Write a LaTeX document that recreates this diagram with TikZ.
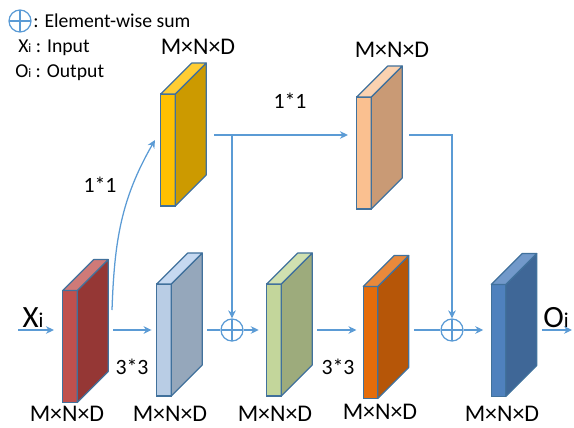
\documentclass[tikz,border=0pt]{standalone}
\usepackage{fontspec}
\setmainfont{Carlito}
\usetikzlibrary{arrows.meta, positioning}
\definecolor{edgeBlue}{RGB}{65,113,156}
\definecolor{flowBlue}{RGB}{91,155,213}
\definecolor{redFront}{RGB}{192,80,77}
\definecolor{redSide}{RGB}{149,55,53}
\definecolor{redTop}{RGB}{207,122,120}
\definecolor{iceFront}{RGB}{185,205,229}
\definecolor{iceSide}{RGB}{149,167,187}
\definecolor{iceTop}{RGB}{198,217,241}
\definecolor{goldFront}{RGB}{255,192,0}
\definecolor{goldSide}{RGB}{204,154,0}
\definecolor{goldTop}{RGB}{255,205,51}
\definecolor{peachFront}{RGB}{250,192,144}
\definecolor{peachSide}{RGB}{201,154,117}
\definecolor{peachTop}{RGB}{251,210,176}
\definecolor{sageFront}{RGB}{195,214,155}
\definecolor{sageSide}{RGB}{157,171,124}
\definecolor{sageTop}{RGB}{208,224,176}
\definecolor{rustFront}{RGB}{228,108,10}
\definecolor{rustSide}{RGB}{182,86,8}
\definecolor{rustTop}{RGB}{233,137,59}
\definecolor{navyFront}{RGB}{79,129,189}
\definecolor{navySide}{RGB}{63,103,151}
\definecolor{navyTop}{RGB}{114,153,202}
\tikzset{%
  >={Stealth[length=2mm, width=1.9mm]},
  % Specifications for style of nodes:
    fmap/.style = {rectangle, draw=edgeBlue, line width=0.8pt, minimum width=0.3625cm,
                   minimum height=2.8cm, inner sep=0pt, outer sep=0pt},
    face/.style = {draw=edgeBlue, line width=0.8pt, line join=round},
    dims/.style = {font=\fontsize{17}{20}\selectfont, inner sep=0pt},
    kernel/.style = {font=\fontsize{15.5}{18}\selectfont, inner sep=0pt},
    legend/.style = {font=\fontsize{14}{17}\selectfont, inner sep=0pt},
    ioLabel/.style = {font=\fontsize{22}{26}\selectfont, inner sep=0pt},
    sum/.style = {circle, draw=flowBlue, line width=0.9pt, minimum size=0.55cm, inner sep=0pt,
                  path picture={\draw[flowBlue, line width=0.9pt]
                    (path picture bounding box.north) -- (path picture bounding box.south)
                    (path picture bounding box.west) -- (path picture bounding box.east);}},
    flow/.style = {draw=flowBlue, line width=0.9pt},
}
% feature map: name, front centre, front, side, top colours
\newcommand{\fmap}[5]{%
  \node (#1) [fmap, fill=#3] at (#2) {};
  \filldraw[face, fill=#4] (#1.north east) -- ++(31,-31) -- ++(0,112) -- (#1.south east) -- cycle;
  \filldraw[face, fill=#5] (#1.north west) -- ++(31,-31) -- ++(14.5,0) -- (#1.north east) -- cycle;
  \coordinate (#1Back) at ([shift={(31,0)}]#1.east);
}

\begin{document}
\begin{tikzpicture}[x=0.025cm, y=-0.025cm]
  \useasboundingbox (0,0) rectangle (574,428);

  \fmap{inputMap}{70,346.5}{redFront}{redSide}{redTop}
  \fmap{convMapA}{164,340}{iceFront}{iceSide}{iceTop}
  \fmap{pointMapA}{168,150}{goldFront}{goldSide}{goldTop}
  \fmap{pointMapB}{364,153}{peachFront}{peachSide}{peachTop}
  \fmap{sumMapA}{274,340}{sageFront}{sageSide}{sageTop}
  \fmap{convMapB}{370.5,342.5}{rustFront}{rustSide}{rustTop}
  \fmap{outputMap}{498.5,340.5}{navyFront}{navySide}{navyTop}

  \node (sumA) [sum] at (232,330) {};
  \node (sumB) [sum] at (452,330) {};

  % legend
  \node (legendSum) [sum] at (20,21) {};
  \node (legendSumText) [legend, right=1pt of legendSum] {: Element-wise sum};
  \node (legendIn) [legend, anchor=west] at (18,48) {X{\fontsize{9}{10}\selectfont i} : Input};
  \node (legendOut) [legend, anchor=west] at (15,73) {O{\fontsize{9}{10}\selectfont i} : Output};

  % labels
  \node (xLabel) [ioLabel] at (33,318) {X{\fontsize{15}{18}\selectfont i}};
  \node (oLabel) [ioLabel] at (556,318) {O{\fontsize{15}{18}\selectfont i}};
  \node (dimIn) [dims] at (67,414) {M×N×D};
  \node (dimConvA) [dims] at (170,414) {M×N×D};
  \node (dimSumA) [dims] at (275,414) {M×N×D};
  \node (dimConvB) [dims] at (380,412) {M×N×D};
  \node (dimOut) [dims] at (502,414) {M×N×D};
  \node (dimPointA) [dims] at (198,47) {M×N×D};
  \node (dimPointB) [dims] at (392,50) {M×N×D};
  \node (kerConvA) [kernel] at (132,367) {3*3};
  \node (kerConvB) [kernel] at (338,367) {3*3};
  \node (kerPointA) [kernel] at (100,185) {1*1};
  \node (kerPointB) [kernel] at (290,101) {1*1};

  \coordinate (auxIn) at (18,330);
  \coordinate (auxOut) at (572,330);
  \coordinate (mainRow) at (0,330);
  \coordinate (topRow) at (0,135);
  \coordinate (auxCurve) at (112,310);
  \coordinate (auxCurveEnd) at (155,140);
  \coordinate (auxBranch) at (sumA |- topRow);

  % Specification of lines between nodes
  \draw[->, flow, shorten >=0.22cm]  (auxIn) -- (auxIn -| inputMap.west);
  \draw[->, flow, shorten <=0.13cm, shorten >=0.13cm]
                                     (mainRow -| inputMapBack) -- (mainRow -| convMapA.west);
  \draw[flow, shorten <=0.13cm]      (mainRow -| convMapABack) -- (sumA.west);
  \draw[->, flow, shorten >=0.2cm]   (sumA.east) -- (mainRow -| sumMapA.west);
  \draw[->, flow, shorten <=0.13cm, shorten >=0.17cm]
                                     (mainRow -| sumMapABack) -- (mainRow -| convMapB.west);
  \draw[flow, shorten <=0.13cm]      (mainRow -| convMapBBack) -- (sumB.west);
  \draw[->, flow, shorten >=0.2cm]   (sumB.east) -- (mainRow -| outputMap.west);
  \draw[->, flow, shorten <=0.13cm]  (mainRow -| outputMapBack) -- (auxOut);
  \draw[->, flow]                    (auxCurve) to[out=88, in=240] (auxCurveEnd);
  \draw[->, flow, shorten <=0.2cm, shorten >=0.22cm]
                                     (topRow -| pointMapABack) -- (topRow -| pointMapB.west);
  \draw[->, flow]                    (auxBranch) -- (sumA.north);
  \draw[->, flow, shorten <=0.18cm]  (topRow -| pointMapBBack) -| (sumB.north);
\end{tikzpicture}
\end{document}
